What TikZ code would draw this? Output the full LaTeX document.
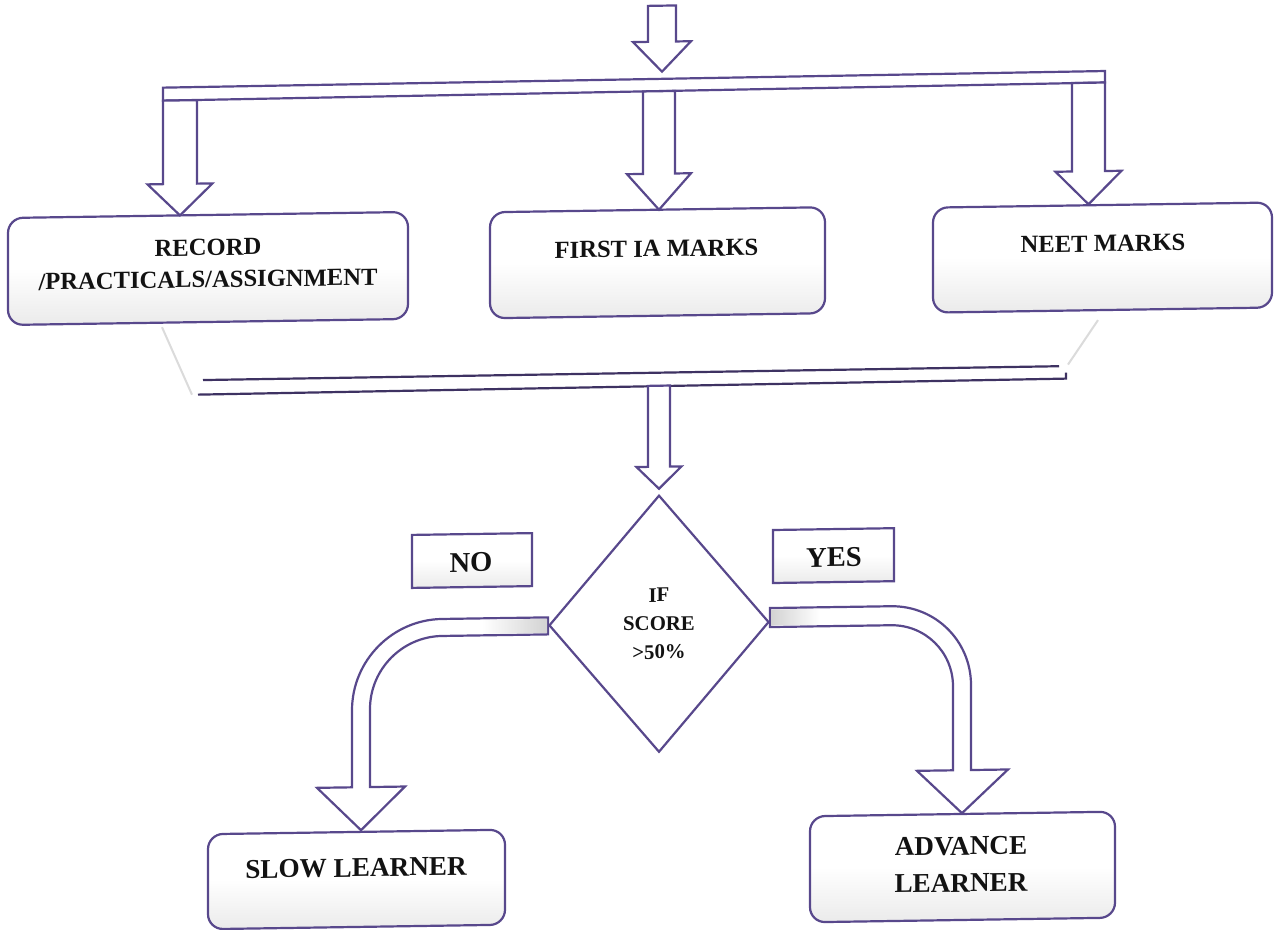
\documentclass[tikz,border=0pt]{standalone}
\usepackage{fontspec}
\setmainfont{Liberation Serif}
\usetikzlibrary{shapes.geometric}
\definecolor{linec}{RGB}{88,72,140}
\definecolor{txtc}{RGB}{18,18,18}
\tikzset{
  lbox/.style={draw=linec, line width=1.1pt, rounded corners=7.5pt, inner sep=0pt, outer sep=0pt,
    top color=white, bottom color=gray!16, middle color=white},
  sbox/.style={draw=linec, line width=1.1pt, inner sep=0pt, outer sep=0pt,
    top color=white, bottom color=gray!16, middle color=white},
  txtA/.style={font=\bfseries\fontsize{12.3}{16}\selectfont, text=txtc, align=center, inner sep=0pt},
  txtB/.style={font=\bfseries\fontsize{13.6}{18.5}\selectfont, text=txtc, align=center, inner sep=0pt},
  txtD/.style={font=\bfseries\fontsize{10.4}{14.25}\selectfont, text=txtc, align=center, inner sep=0pt},
  txtN/.style={font=\bfseries\fontsize{14.3}{17}\selectfont, text=txtc, inner sep=0pt},
  arr/.style={draw=linec, line width=1.1pt, fill=white, line join=miter},
  faint/.style={draw=gray!28, line width=1pt},
  dline/.style={draw=linec!70!black, line width=1.1pt},
}
\newcommand{\blkarrow}[6]{%
  \draw[arr] ({#1-#5},#2) -- ({#1+#5},#2) -- ({#1+#5},#3) -- ({#1+#6},#3) -- (#1,#4)
    -- ({#1-#6},#3) -- ({#1-#5},#3) -- cycle;}
\begin{document}
\begin{tikzpicture}[x=0.5pt, y=-0.5pt]
\fill[white] (0,0) rectangle (1280,930);
\useasboundingbox (0,0) rectangle (1280,930);
\begin{scope}[cm={1,0.015,0,1,(0pt,-4.8pt)}, transform shape]
  % boxes
  \node[lbox, minimum width=200pt, minimum height=53.5pt] (b1) at (208,262) {};
  \node[lbox, minimum width=167.5pt, minimum height=53pt] (b2) at (657.5,263) {};
  \node[lbox, minimum width=169.5pt, minimum height=52.5pt] (b3) at (1102.5,264.5) {};
  \node[txtA] (b1t) at (208,257) {RECORD\\/PRACTICALS/ASSIGNMENT};
  \node[txtA] (b2t) at (656.5,249) {FIRST IA MARKS};
  \node[txtA] (b3t) at (1103,250.5) {NEET MARKS};

  % top bar and arrows
  \blkarrow{662}{6}{42}{72}{14}{29}
  \draw[arr] (163,80.5) -- (1105,78) -- (1105,89.5) -- (163,93.5) -- cycle;
  \blkarrow{180}{93.5}{177}{208.5}{17}{32.5}
  \blkarrow{659}{91.5}{174}{210}{16}{32}
  \blkarrow{1088.5}{89.5}{178}{211}{16.5}{33}

  % merge
  \draw[faint] (162,320) -- (192,388);
  \draw[faint] (1098,327) -- (1068,371);
  \draw[dline] (203,373.5) -- (1059,372.5);
  \draw[dline] (198,388) -- (1066,385) -- (1066,379);
  \blkarrow{659}{386}{467}{489}{11}{22.5}

  % decision
  \node[diamond, draw=linec, line width=1.1pt, fill=white, minimum width=110pt, minimum height=128.5pt,
        inner sep=0pt, txtD] (dia) at (659,624) {IF\\SCORE\\>50\%};
  \node[sbox, minimum width=60pt, minimum height=26.5pt] (nob) at (472,558) {};
  \node[txtN] (not) at (471,560) {NO};
  \node[sbox, minimum width=60.5pt, minimum height=26.5pt] (yesb) at (833.5,558.5) {};
  \node[txtN] (yest) at (834,560.4) {YES};

  % curved arrows
  \draw[arr] (548,616) -- (442,616) arc[start angle=90, end angle=180, radius=45pt]
     -- (352,783) -- (317,783) -- (361,826) -- (405,783) -- (370,783) -- (370,705)
     arc[start angle=180, end angle=90, radius=36pt] -- (548,633) -- cycle;
  \shade[left color=white, right color=gray!35] (482,617.5) rectangle (547,631.5);
  \draw[arr] (770,610) -- (891,610) arc[start angle=90, end angle=0, radius=40pt]
     -- (971,775) -- (1008,775) -- (962,818) -- (917,775) -- (953,775) -- (953,691)
     arc[start angle=0, end angle=90, radius=31pt] -- (770,629) -- cycle;
  \shade[left color=gray!35, right color=white] (771,611.5) rectangle (820,627.5);

  % outcomes
  \node[lbox, minimum width=148.5pt, minimum height=47.5pt] (slow) at (356.5,875.2) {};
  \node[txtB] (slowt) at (356,863.7) {SLOW LEARNER};
  \node[lbox, minimum width=152.5pt, minimum height=53pt] (adv) at (962.5,871.8) {};
  \node[txtB] (advt) at (961,869.3) {ADVANCE\\LEARNER};
\end{scope}
\end{tikzpicture}
\end{document}
